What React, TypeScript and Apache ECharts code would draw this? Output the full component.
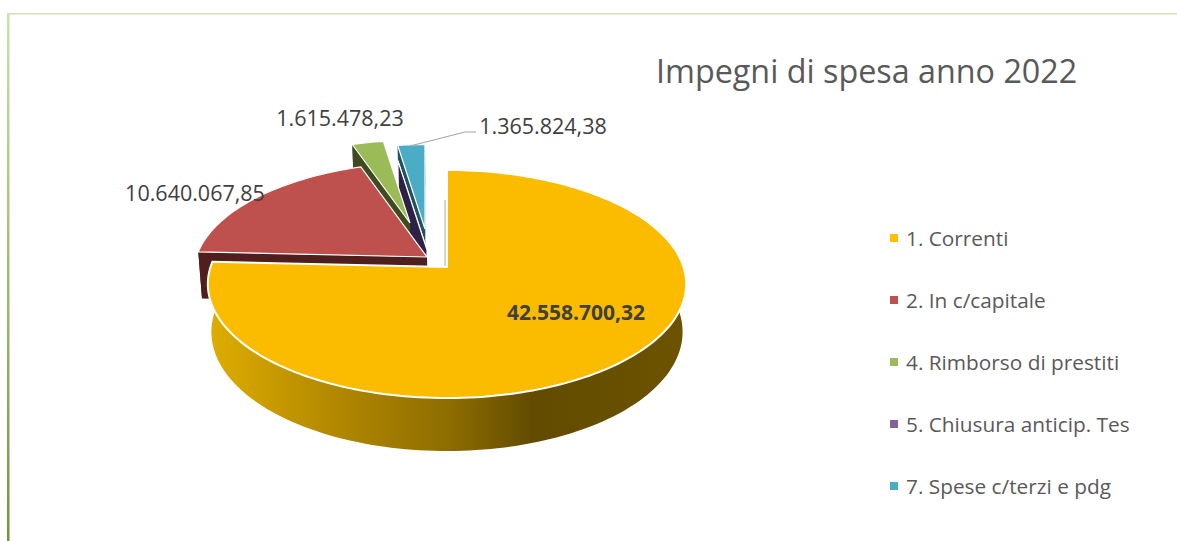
import React, { useEffect, useRef } from "react";
import * as echarts from "echarts";

const titleText = "Impegni di spesa anno 2022";
const categories = ["1. Correnti", "2. In c/capitale", "4. Rimborso di prestiti", "5. Chiusura anticip. Tes", "7. Spese c/terzi e pdg"];
const values = [42558700.32, 10640067.85, 1615478.23, 0, 1365824.38];
const colors = ["#fbbc00", "#be504d", "#9bbb59", "#8064a2", "#4bacc6"];
const legendColors = ["#ffc000", "#c0504d", "#9bbb59", "#8064a2", "#4bacc6"];
const wallColors = ["#b08600", "#4f1f1e", "#3f4a1e", "#2e2145", "#1f5362"];

// Geometry of each exploded slice on the page
const apexes = [[447, 267], [427, 257], [410, 223], [427, 250], [425, 229]];
const radiusScale = [1, 0.975, 0.85, 0.93, 0.87];
const zOrder = [6, 5, 4, 3, 2];
const labelPos: (number[] | null)[] = [[576, 312], [195, 192], [340, 117], null, [543, 125]];

const FONT = "'Open Sans', sans-serif";
const R = 236.5, RY = 111.5, K = 0.149, OX = 446.5, SHRINK = 0.985;
const total = values.reduce((a, b) => a + b, 0);

function fmt(v: number) {
  const [i, d] = v.toFixed(2).split(".");
  return i.replace(/\B(?=(\d{3})+$)/g, ".") + "," + d;
}

function sliceAngles(idx: number) {
  let s = 0;
  for (let i = 0; i < idx; i++) s += values[i];
  return [(s / total) * 360, ((s + values[idx]) / total) * 360];
}

function disk(idx: number, deg: number) {
  const t = (deg * Math.PI) / 180;
  const X = Math.sin(t), Y = Math.cos(t);
  const d = 1 + K * Y;
  const rs = radiusScale[idx];
  return { p: [apexes[idx][0] + (R * rs * X) / d, apexes[idx][1] - (RY * rs * Y) / d], Y };
}
const drop = (p: number[], Y: number) => [OX + (p[0] - OX) * SHRINK, p[1] + 47 - 6 * Y];

function renderSlice(idx: number) {
  const [a0, a1] = sliceAngles(idx);
  const steps = Math.max(1, Math.ceil((a1 - a0) / 1.5));
  const rim: { p: number[]; Y: number }[] = [];
  for (let i = 0; i <= steps; i++) rim.push(disk(idx, a0 + ((a1 - a0) * i) / steps));
  const apex = apexes[idx];
  const apexDrop = drop(apex, 0);
  const first = rim[0], last = rim[rim.length - 1];
  const wallFill =
    idx === 0
      ? new echarts.graphic.LinearGradient(207, 0, 686, 0, [
          { offset: 0, color: "#dfae00" },
          { offset: 0.25, color: "#b58a00" },
          { offset: 0.5, color: "#8f6e00" },
          { offset: 0.68, color: "#624b00" },
          { offset: 1, color: "#6d5300" },
        ], true)
      : wallColors[idx];
  const wallStroke = idx === 3 ? { stroke: "#ffffff", lineWidth: 1.2 } : {};
  const children: any[] = [];
  const wall = (pts: number[][]) =>
    children.push({ type: "polygon", shape: { points: pts }, style: { fill: wallFill, ...wallStroke } });
  wall([apex, first.p, drop(first.p, first.Y), apexDrop]);
  wall([apex, last.p, drop(last.p, last.Y), apexDrop]);
  if (values[idx] > 0) {
    wall([...rim.map((r) => r.p), ...rim.slice().reverse().map((r) => drop(r.p, r.Y))]);
    children.push({
      type: "polygon",
      shape: { points: [apex, ...rim.map((r) => r.p)] },
      style: { fill: colors[idx], stroke: "#ffffff", lineWidth: idx === 0 ? 2 : 1.2 },
    });
  }
  if (idx === 0) {
    children.push({
      type: "line",
      shape: { x1: 445, y1: 200, x2: 445, y2: 266 },
      style: { stroke: "#b9ac78", lineWidth: 1 },
    });
  }
  return { type: "group", children };
}

export default function App() {
  const ref = useRef<HTMLDivElement>(null);
  useEffect(() => {
    const chart = echarts.init(ref.current!, null, { renderer: "svg" });
    const labelElements = values.flatMap((v, i) => {
      const pos = labelPos[i];
      if (!pos) return [];
      return [{
        type: "text",
        x: pos[0],
        y: pos[1],
        z: 20,
        style: {
          text: fmt(v),
          fill: "#404040",
          font: `${i === 0 ? "bold " : ""}${i === 0 ? 21 : 21.5}px ${FONT}`,
          textAlign: "center",
          textVerticalAlign: "middle",
        },
      }];
    });
    chart.setOption({
      animation: false,
      backgroundColor: "#ffffff",
      title: {
        text: titleText,
        left: 651,
        top: 49,
        textStyle: { fontFamily: FONT, fontSize: 32.3, fontWeight: "normal", color: "#595959" },
      },
      legend: {
        orient: "vertical",
        left: 885,
        top: 218,
        itemWidth: 8,
        itemHeight: 8,
        itemGap: 32,
        icon: "rect",
        selectedMode: false,
        data: categories.map((name, i) => ({ name, itemStyle: { color: legendColors[i] } })),
        textStyle: { fontFamily: FONT, fontSize: 20.8, color: "#595959", lineHeight: 30, padding: [0, 0, 0, 3] },
      },
      graphic: [
        {
          type: "rect",
          z: 0,
          shape: { x: 7, y: 13, width: 2.5, height: 528 },
          style: {
            fill: new echarts.graphic.LinearGradient(0, 0, 0, 1, [
              { offset: 0, color: "#cfe0ab" },
              { offset: 1, color: "#76933c" },
            ]),
          },
        },
        { type: "rect", z: 0, shape: { x: 7, y: 13, width: 1170, height: 1.5 }, style: { fill: "#d3e2b4" } },
        {
          type: "polyline",
          z: 20,
          shape: { points: [[410, 146], [465, 132], [476, 132]] },
          style: { stroke: "#a6a6a6", lineWidth: 1.2, fill: "none" },
        },
        ...labelElements,
      ],
      series: categories.map((name, i) => ({
        type: "custom",
        name,
        coordinateSystem: "none",
        z: zOrder[i],
        silent: true,
        itemStyle: { color: legendColors[i] },
        data: [[values[i]]],
        renderItem: () => renderSlice(i),
      })),
    });
    return () => chart.dispose();
  }, []);
  return <div ref={ref} style={{ position: "fixed", left: 0, top: 0, width: 1177, height: 541 }} />;
}
